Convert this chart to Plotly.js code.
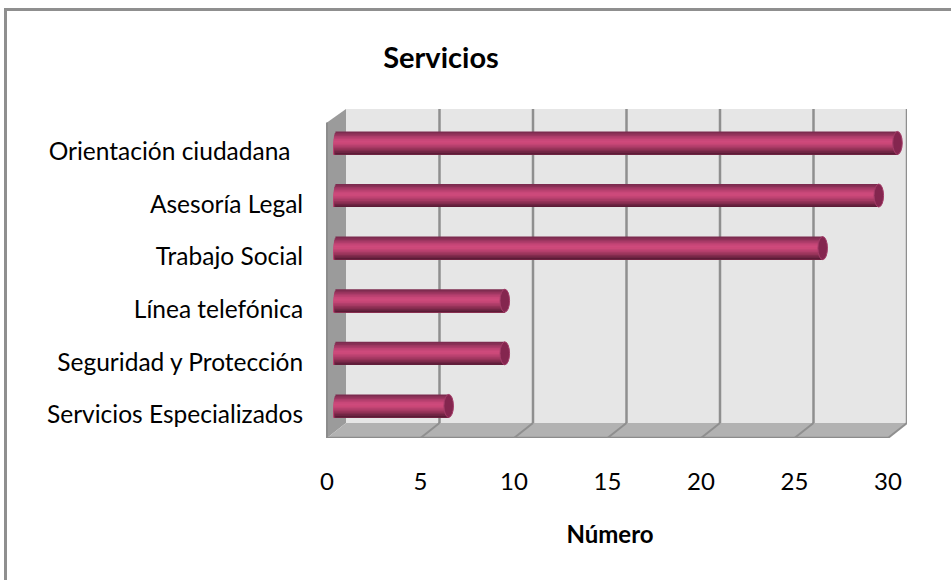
<!DOCTYPE html>
<html><head><meta charset="utf-8">
<script src="https://cdn.plot.ly/plotly-3.0.1.min.js"></script>
<style>html,body{margin:0;padding:0;background:#fff}#chart{width:951px;height:580px}</style>
</head><body><div id="chart"></div>
<script>
const categories = ["Servicios Especializados","Seguridad y Protección","Línea telefónica","Trabajo Social","Asesoría Legal","Orientación ciudadana\u00a0\u00a0"];
const values = [6, 9, 9, 26, 29, 30];
const xTicks = [0,5,10,15,20,25,30];
const bandColors = ["#7c2b4f","#8a3056","#9c3660","#ad3c6a","#bd4272","#c84778","#ce4a7c","#cc4979","#c24574","#b43f6c","#a63a63","#963359","#832c4e","#6f2443","#5c1c37"];

const PX = 561/30, DEPTH_X = 19/PX, DEPTH_Y = 15/52.6;
const yPos = categories.map((_, i) => i);
const hx = 4.75/PX, hxLeft = 3/PX, cx = 0.508, barShiftY = 0.11, barH = 23/52.6, labelShift = 0.055;
const traces = bandColors.map((c, k) => {
  const n = bandColors.length, t = (k+0.5)/n*2-1;
  const inset = hxLeft*Math.sqrt(1-t*t);
  const bh = barH/n;
  return {type:'bar', orientation:'h', y:yPos.map(i=>i+barShiftY), x:values.map(()=>0).map((_,i)=>values[i]+inset),
    base:values.map(()=>cx-inset), width:barH-k*bh, offset:-barH/2,
    marker:{color:c,line:{width:0}}, hoverinfo:'skip', showlegend:false};
});

const yBot=-0.5, yTop=5.755, xR=30+DEPTH_X, yBack=yBot+DEPTH_Y;
const poly=(pts,fill)=>({type:'path',layer:'below',xref:'x',yref:'y',fillcolor:fill,line:{width:0},
  path:'M'+pts.map(p=>p.join(',')).join(' L')+' Z'});
const shapes=[
  poly([[DEPTH_X,yBack],[xR,yBack],[xR,yTop],[DEPTH_X,yTop]],'#e6e6e6'),
  poly([[0,yBot],[DEPTH_X,yBack],[DEPTH_X,yTop],[0,yTop-DEPTH_Y+0.03]],'#9b9b9b'),
  poly([[0,yBot],[30,yBot],[xR,yBack],[DEPTH_X,yBack]],'#b2b2b2'),
  {type:'line',layer:'below',xref:'x',yref:'y',x0:0,x1:30,y0:yBot,y1:yBot,line:{color:'#8c8c8c',width:2.5}},
  {type:'line',layer:'below',xref:'x',yref:'y',x0:0,x1:0,y0:yBot,y1:yTop-DEPTH_Y+0.03,line:{color:'#8c8c8c',width:2}}
];
xTicks.forEach(t=>{
  if(t>0) shapes.push({type:'line',layer:'below',xref:'x',yref:'y',x0:t+DEPTH_X,x1:t+DEPTH_X,y0:yBack,y1:yTop,line:{color:'#8f8f8f',width:2.5}});
  if(t>0) shapes.push({type:'line',layer:'below',xref:'x',yref:'y',x0:t,x1:t+DEPTH_X,y0:yBot,y1:yBack,line:{color:'#8f8f8f',width:2}});
});
values.forEach((v,i)=>{
  shapes.push({type:'circle',layer:'above',xref:'x',yref:'y',fillcolor:'#84264f',line:{width:1,color:'#a33c68'},
    x0:v+cx-hx,x1:v+cx+hx,y0:i+barShiftY-barH/2,y1:i+barShiftY+barH/2});
});

const font='Lato, "Open Sans", sans-serif';
Plotly.newPlot('chart',traces,{
  width:951,height:580,margin:{l:313,r:44,t:109,b:142,pad:0},autosize:false,
  paper_bgcolor:'#fff',plot_bgcolor:'rgba(0,0,0,0)',barmode:'overlay',
  font:{family:font,color:'#000',size:24},
  title:{text:'Servicios',x:441/951,xanchor:'center',y:1-58/580,yanchor:'middle',font:{family:font,size:29,weight:700,color:'#000'}},
  xaxis:{range:[-14/PX,xR],tickmode:'array',tickvals:xTicks,ticktext:xTicks.map(String),showgrid:false,zeroline:false,showline:false,
    ticks:'outside',ticklen:22,tickcolor:'rgba(0,0,0,0)',tickfont:{size:24},
    title:{text:'Número',standoff:32,font:{family:font,size:24,weight:700,color:'#000'}}},
  yaxis:{range:[yBot,yTop],tickmode:'array',tickvals:yPos.map(i=>i-labelShift),ticktext:categories,showgrid:false,zeroline:false,showline:false,
    ticks:'outside',ticklen:4,tickcolor:'rgba(0,0,0,0)',tickfont:{size:24.5}},
  shapes:shapes,showlegend:false
},{displayModeBar:false,staticPlot:true}).then(()=>{
  const b=document.createElement('div');
  b.style.cssText='position:absolute;left:4px;top:8px;width:947px;height:569px;border-top:3px solid #8f8f8f;border-left:3px solid #8f8f8f;pointer-events:none';
  document.body.appendChild(b);
});
</script></body></html>
